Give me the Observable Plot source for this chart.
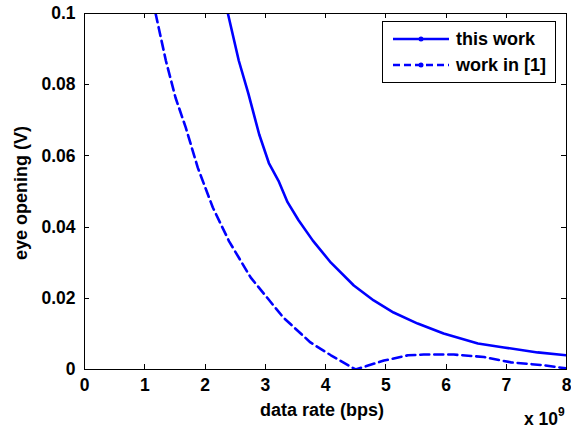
<!DOCTYPE html>
<html><head><meta charset="utf-8">
<script src="https://cdn.jsdelivr.net/npm/d3@7"></script>
<script src="https://cdn.jsdelivr.net/npm/@observablehq/plot@0.6"></script>
<style>
body{margin:0;background:#fff;}
#wrap{width:571px;height:428px;}
svg{font-family:"Liberation Sans",Arial,sans-serif;}
</style></head><body><div id="wrap"></div>
<script>
const xTicks = [0, 1, 2, 3, 4, 5, 6, 7, 8];
const xTickLabels = ["0", "1", "2", "3", "4", "5", "6", "7", "8"];
const yTicks = [0, 0.02, 0.04, 0.06, 0.08, 0.1];
const yTickLabels = ["0", "0.02", "0.04", "0.06", "0.08", "0.1"];

const seriesNames = ["this work", "work in [1]"];
// data rate in units of 1e9 bps
const thisWorkRate = [2.38, 2.56, 2.72, 2.9, 3.06, 3.22, 3.37, 3.55, 3.79, 4.09, 4.47, 4.8, 5.13, 5.53, 5.96, 6.53, 6.96, 7.52, 8.0];
const thisWorkEye  = [0.1, 0.0868, 0.0775, 0.066, 0.058, 0.053, 0.047, 0.042, 0.0362, 0.030, 0.0236, 0.0194, 0.016, 0.0129, 0.0101, 0.0073, 0.0062, 0.0048, 0.004];
const ref1Rate = [1.18, 1.35, 1.51, 1.68, 1.88, 2.13, 2.4, 2.76, 3.04, 3.3, 3.75, 4.09, 4.5, 4.97, 5.37, 5.63, 6.13, 6.63, 7.08, 7.62, 8.0];
const ref1Eye  = [0.1, 0.0868, 0.0764, 0.068, 0.0567, 0.0455, 0.036, 0.0258, 0.020, 0.0146, 0.0076, 0.004, 0.0, 0.0025, 0.004, 0.0042, 0.0042, 0.0035, 0.002, 0.0012, 0.0003];

const thisWork = thisWorkRate.map((x, i) => ({x, y: thisWorkEye[i]}));
const ref1 = ref1Rate.map((x, i) => ({x, y: ref1Eye[i]}));

const W = 571, H = 428;
const blue = "#0000ff";
const fs = 17.5;
const lfs = 18;

const plot = Plot.plot({
  width: W, height: H,
  marginLeft: 84, marginRight: 5, marginTop: 13, marginBottom: 59,
  style: {fontFamily: '"Liberation Sans", Arial, sans-serif', fontSize: fs + "px", fontWeight: "bold", color: "black", background: "white"},
  x: {domain: [0, 8]},
  y: {domain: [0, 0.1]},
  marks: [
    Plot.line(thisWork, {x: "x", y: "y", stroke: blue, strokeWidth: 2.6, clip: true}),
    Plot.line(ref1, {x: "x", y: "y", stroke: blue, strokeWidth: 2.6, strokeDasharray: "9,5", clip: true}),
    Plot.axisX(xTicks, {anchor: "bottom", tickSize: 0, tickPadding: 9, tickFormat: (d, i) => xTickLabels[i], label: null, fontSize: fs, fontWeight: "bold"}),
    Plot.axisY(yTicks, {anchor: "left", tickSize: 0, tickPadding: 9, tickFormat: (d, i) => yTickLabels[i], label: null, fontSize: fs, fontWeight: "bold"}),
    Plot.frame({stroke: "black", strokeWidth: 1})
  ]
});
document.getElementById("wrap").appendChild(plot);

const svg = d3.select(plot);
const sx = plot.scale("x"), sy = plot.scale("y");
const x0 = sx.apply(0), x1 = sx.apply(8), y0 = sy.apply(0), y1 = sy.apply(0.1);

// inward ticks on all four sides
const tk = svg.append("g").attr("stroke", "black").attr("stroke-width", 1);
xTicks.forEach(t => {
  const px = Math.round(sx.apply(t)) + 0.5;
  tk.append("line").attr("x1", px).attr("x2", px).attr("y1", y0).attr("y2", y0 - 5);
  tk.append("line").attr("x1", px).attr("x2", px).attr("y1", y1).attr("y2", y1 + 5);
});
yTicks.forEach(t => {
  const py = Math.round(sy.apply(t)) + 0.5;
  tk.append("line").attr("y1", py).attr("y2", py).attr("x1", x0).attr("x2", x0 + 5);
  tk.append("line").attr("y1", py).attr("y2", py).attr("x1", x1).attr("x2", x1 - 5);
});

// axis labels
svg.append("text").attr("x", (x0 + x1) / 2 - 3).attr("y", 416)
  .attr("text-anchor", "middle").attr("font-size", lfs).attr("font-weight", "bold").attr("fill", "black")
  .text("data rate (bps)");
svg.append("text").attr("transform", `translate(27,${(y0 + y1) / 2 + 2}) rotate(-90)`)
  .attr("text-anchor", "middle").attr("font-size", lfs).attr("font-weight", "bold").attr("fill", "black")
  .text("eye opening (V)");
const ex = svg.append("text").attr("x", 524).attr("y", 425).attr("text-anchor", "start")
  .attr("font-size", fs).attr("font-weight", "bold").attr("fill", "black");
ex.append("tspan").text("x 10");
ex.append("tspan").attr("font-size", 12).attr("dy", -9).text("9");

// legend
const lg = svg.append("g");
lg.append("rect").attr("x", 382.5).attr("y", 21.5).attr("width", 173).attr("height", 61)
  .attr("fill", "white").attr("stroke", "black").attr("stroke-width", 1);
const rows = [{y: 39, dash: null}, {y: 65, dash: "7,4"}];
rows.forEach((r, i) => {
  const ln = lg.append("line").attr("x1", 393).attr("x2", 449).attr("y1", r.y).attr("y2", r.y)
    .attr("stroke", blue).attr("stroke-width", 2.6);
  if (r.dash) ln.attr("stroke-dasharray", r.dash);
  lg.append("circle").attr("cx", 421).attr("cy", r.y).attr("r", 2.5).attr("fill", blue);
  lg.append("text").attr("x", 456).attr("y", r.y + 6).attr("text-anchor", "start")
    .attr("font-size", lfs).attr("font-weight", "bold").attr("fill", "black").text(seriesNames[i]);
});
</script>
</body></html>
